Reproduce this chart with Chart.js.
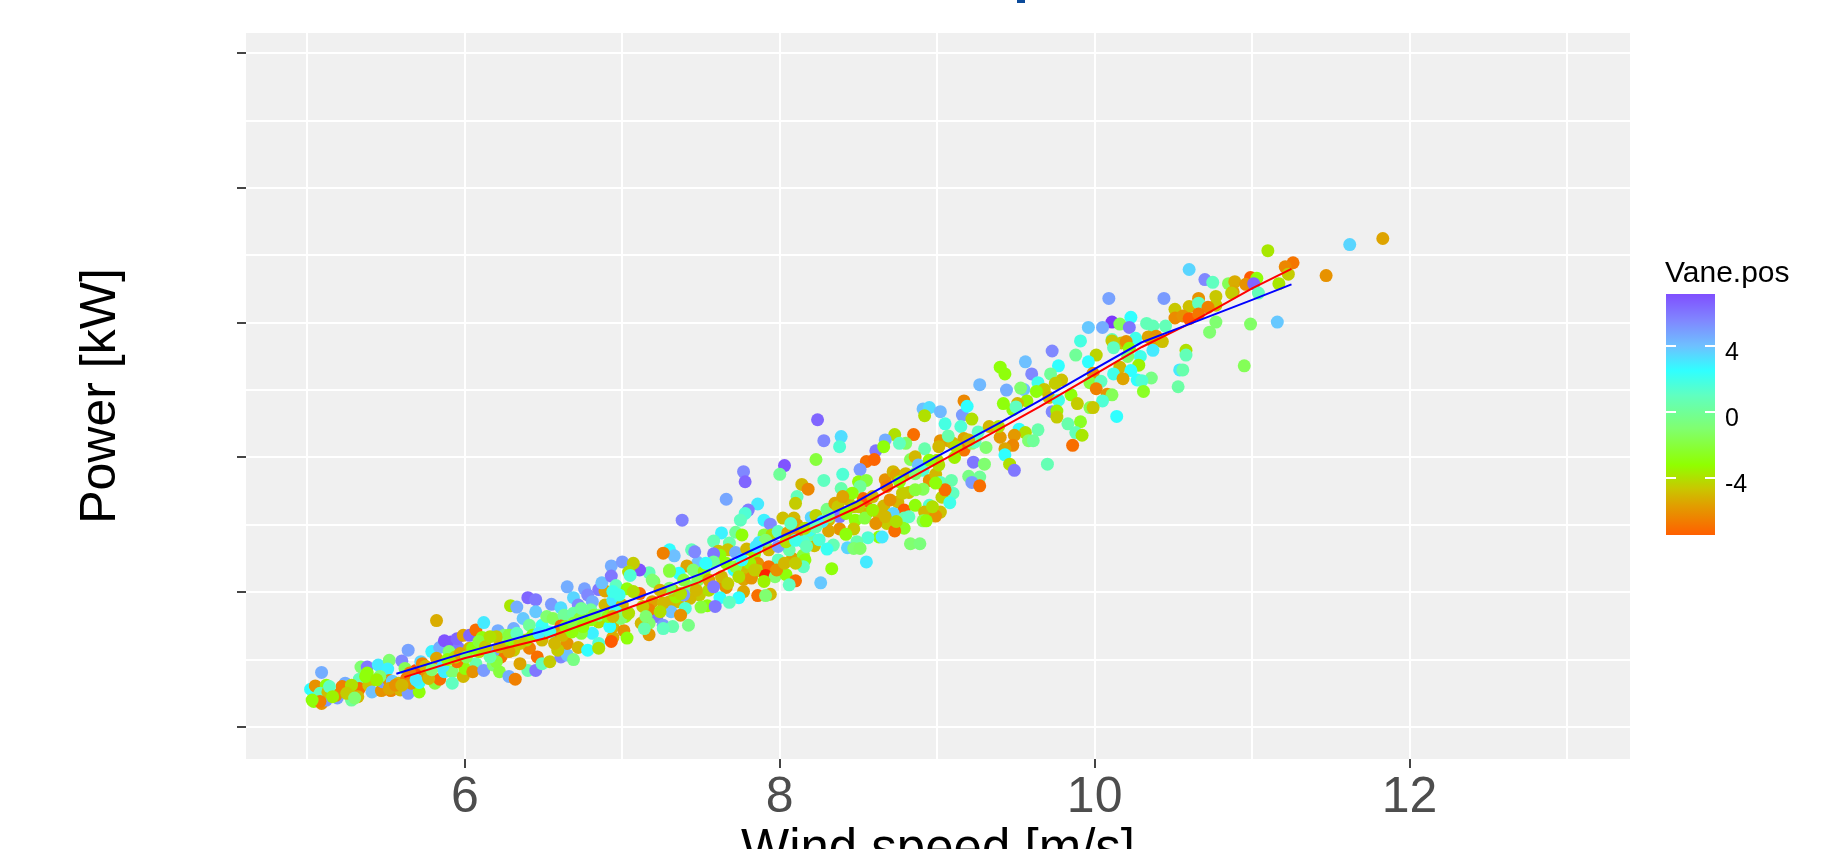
<!DOCTYPE html>
<html lang="en">
<head>
  <meta charset="UTF-8"/>
  <title>Power curve by vane position</title>
  <script src="https://cdn.jsdelivr.net/npm/chart.js"></script>
  <style>
    html, body { margin: 0; padding: 0; background: #fff; overflow: hidden; height: 849px; }
    body { position: relative; font-family: "Liberation Sans", Arial, sans-serif; }
    #chart { position: absolute; left: 0; top: 0; }
    #titleStub { position: absolute; left: 1017px; top: 0; width: 8px; height: 3px; background: #0b4a9a; }
    #legendTitle { position: absolute; left: 1665px; top: 255px; font-size: 30px; line-height: 34px; color: #000; }
    #legendBar { position: absolute; left: 1666px; top: 294px; width: 49px; height: 241px; }
    .legendTick { position: absolute; height: 2px; width: 10px; background: #fff; }
    .legendLabel { position: absolute; left: 1725px; font-size: 25px; line-height: 28px; color: #000; }
  </style>
</head>
<body>
  <canvas id="chart" width="1844" height="900"></canvas>
  <div id="titleStub"></div>
  <div id="legendTitle">Vane.pos</div>
  <div id="legendBar"></div>

  <script>
    // y axis has no labels so the kW scale is a guess
    const windSpeed = [
      11.83,11.62,11.10,11.26,11.21,11.23,11.47,10.60,10.70,10.75,10.85,10.89,10.99,11.03,10.96,11.01,11.17,10.88,10.87,11.04,
      10.44,10.09,10.77,10.66,10.60,10.51,10.66,10.77,10.72,10.51,10.56,10.60,10.66,10.11,10.23,10.16,10.33,10.37,10.45,10.77,
      10.99,11.16,9.96,10.05,10.22,10.73,9.91,10.11,10.11,10.17,10.26,10.34,10.39,10.37,10.43,10.12,10.20,10.22,9.73,9.88,
      10.01,10.37,10.58,10.58,9.56,9.96,9.77,10.29,10.21,10.28,10.16,10.23,10.95,9.40,9.43,9.60,9.72,10.54,10.56,10.12,
      10.18,9.99,9.79,9.75,9.64,10.36,10.27,10.30,9.97,10.04,9.68,9.55,9.44,9.53,9.63,9.71,10.53,10.31,10.01,10.08,
      10.11,9.85,9.57,9.42,9.51,9.77,10.05,9.89,9.97,9.99,9.48,9.50,9.73,9.76,9.76,10.14,9.83,9.91,9.64,9.52,
      9.56,9.88,9.92,9.49,9.40,9.58,9.61,9.48,9.86,9.43,9.43,9.70,9.46,9.49,
      9.27,8.91,8.95,9.02,8.92,9.17,9.16,9.19,9.22,9.05,9.15,8.73,8.85,8.67,8.80,8.76,8.61,8.66,8.92,8.83,
      8.86,9.02,9.07,9.10,9.07,9.17,9.26,9.33,9.39,9.17,9.31,9.11,9.00,9.23,9.30,8.24,8.28,8.39,8.38,8.23,
      8.55,8.60,8.51,8.03,8.00,7.77,7.78,8.40,8.28,8.39,8.14,8.18,8.50,8.55,8.51,8.67,8.72,8.74,8.68,8.88,
      8.91,8.95,8.99,8.91,9.02,9.09,9.10,9.20,9.27,9.22,9.27,8.11,8.10,7.66,7.86,7.80,7.78,7.75,7.38,7.90,
      8.02,8.09,7.94,8.20,8.23,8.30,8.35,8.43,8.37,8.53,8.55,8.47,8.66,8.75,8.82,8.79,8.86,8.95,9.03,9.08,
      8.92,9.02,8.99,8.91,8.93,8.55,8.63,8.72,8.79,8.48,8.54,8.68,8.61,8.79,8.73,8.63,8.65,8.83,8.89,8.38,
      8.31,8.38,8.31,8.47,8.42,8.56,8.49,8.43,8.47,8.51,8.34,8.30,8.22,8.55,8.33,8.26,7.63,7.58,7.72,7.76,
      7.90,7.95,7.99,8.05,8.12,8.19,8.15,7.68,7.61,7.67,7.72,7.79,7.87,7.93,7.84,7.62,7.58,7.48,7.44,7.46,
      7.30,7.33,7.26,7.41,7.30,7.36,7.58,7.99,8.08,8.15,8.16,8.15,7.86,7.79,7.86,7.64,7.66,7.71,7.93,7.91,
      7.97,8.04,8.10,8.06,7.77,7.82,7.90,7.77,7.86,7.94,7.91,7.74,7.62,7.68,7.17,7.11,7.30,7.20,7.11,7.19,
      7.49,7.43,7.35,7.30,7.54,7.50,7.40,7.31,7.37,7.22,7.26,7.42,7.32,7.17,7.12,7.17,7.26,7.14,7.55,7.59,
      7.48,7.43,7.39,7.19,7.26,7.17,7.45,7.52,
      5.09,5.02,5.05,5.12,5.04,5.09,5.12,5.08,5.13,5.19,5.18,5.24,5.22,5.28,5.28,5.33,5.33,5.32,5.34,5.38,
      5.38,5.45,5.52,5.51,5.60,5.62,5.39,5.41,5.47,5.53,5.48,5.52,5.54,5.58,5.59,5.64,5.71,5.64,5.69,5.63,
      5.66,5.71,5.72,5.73,5.79,5.84,5.87,5.91,5.96,5.95,5.82,5.99,6.03,6.07,6.12,6.11,6.21,6.25,6.20,6.29,
      6.33,6.40,6.45,6.31,6.37,6.45,6.55,6.61,6.41,6.49,6.52,6.56,6.65,6.69,6.76,6.78,6.72,6.81,6.85,6.89,
      6.87,6.93,7.00,7.07,7.04,7.05,6.93,6.96,7.03,6.63,6.69,6.80,6.89,6.94,7.00,6.61,6.73,6.67,6.77,6.85,
      6.94,7.02,5.76,5.81,5.84,5.87,5.92,5.92,5.99,6.00,6.07,5.95,5.82,5.90,6.05,6.03,6.12,6.18,6.22,6.28,
      6.32,6.40,6.45,6.35,6.31,6.41,6.46,6.49,6.54,6.61,6.65,6.69,6.65,6.72,6.78,6.81,6.85,6.85,6.94,6.93,
      7.01,7.03,6.23,6.18,6.26,6.09,6.59,6.58,6.49,6.39,6.20,6.16,6.74,6.92,
      5.46,5.37,5.44,5.28,5.14,5.16,5.08,5.03,5.25,5.30,5.52,5.56,5.60,5.65,5.69,5.75,5.77,5.79,5.86,5.89,
      5.94,5.97,6.01,6.05,6.09,6.13,6.16,6.22,6.28,6.30,6.35,6.28,6.33,6.43,6.47,6.54,6.57,6.62,6.68,6.64,
      6.69,6.75,6.80,6.85,6.91,6.96,6.99,7.04,6.94,6.82,6.74,6.98,7.07,6.94,
      7.13,7.15,7.24,7.34,7.32,7.30,7.24,7.39,7.47,7.37,7.55,7.58,7.63,7.67,7.53,7.66,7.72,7.74,7.81,7.84,
      7.76,7.98,8.03,8.10,8.06,7.99,8.04,7.91,7.85,8.10,8.19,8.25,8.17,8.11,8.07,8.16,8.27,8.23,8.42,8.50,
      8.59,8.67,8.74,8.82,8.59,8.46,8.40,8.31,8.78,8.70,8.86,8.97,9.05,8.99,8.80,8.76,8.86,9.01,9.12,9.22,
      9.24,9.20,9.01,8.95
    ];
    const power = [
      725,716,707,689,683,672,670,679,664,660,658,661,667,666,657,658,658,646,644,644,
      636,636,639,636,624,620,629,626,623,607,610,606,613,601,608,598,599,595,595,601,
      598,601,593,593,593,586,573,575,573,570,577,579,580,572,572,563,572,562,558,552,
      552,559,559,552,542,542,536,550,550,537,534,529,536,534,524,524,524,530,530,524,
      517,525,515,510,511,518,515,514,511,513,501,501,500,503,498,489,505,498,502,494,
      493,493,484,480,480,485,484,480,474,474,471,475,468,469,460,461,450,453,441,442,
      437,437,433,433,430,425,425,418,418,413,404,390,390,381,
      508,472,474,468,462,484,463,476,457,450,446,434,434,426,421,421,410,416,413,397,
      401,425,425,421,432,428,438,446,446,411,415,400,396,393,390,456,425,431,416,397,
      394,397,382,388,375,379,364,375,366,354,360,353,364,366,357,367,379,374,357,389,
      381,366,375,353,363,366,347,372,371,363,358,342,332,338,331,322,317,307,307,307,
      310,310,301,311,314,323,332,338,327,339,336,327,328,334,348,322,329,329,341,333,
      319,319,313,306,306,317,315,317,310,307,310,302,302,295,291,282,282,272,272,312,
      307,294,291,294,286,281,275,266,265,265,270,264,269,245,235,214,288,276,289,285,
      285,285,290,288,290,285,275,273,261,263,259,264,274,263,257,255,257,244,263,260,
      263,254,258,239,233,228,245,248,250,255,248,238,243,235,232,216,207,233,238,225,
      223,226,217,211,219,221,216,201,195,197,195,192,192,185,229,233,231,216,198,218,
      196,191,186,186,180,178,176,171,166,164,151,151,149,154,154,137,146,146,203,179,
      218,208,196,186,184,174,233,231,
      81,56,61,62,38,35,40,50,52,43,47,65,60,40,57,71,57,45,89,89,
      80,92,99,86,98,87,62,52,54,54,67,69,68,65,55,50,52,114,84,72,
      65,66,97,94,112,118,128,126,117,131,158,136,136,144,155,133,143,136,134,180,
      178,192,189,146,161,171,182,177,151,151,164,161,208,192,205,196,181,186,204,202,
      214,239,245,243,230,225,224,210,205,166,169,174,181,188,181,150,161,144,159,156,
      149,164,77,65,71,82,82,65,75,87,94,97,102,112,82,117,84,92,82,75,
      71,84,84,94,114,117,104,94,97,104,107,100,124,118,114,139,124,117,133,127,
      143,132,104,112,119,112,114,139,129,129,97,104,139,149,
      75,75,70,62,60,45,38,40,50,43,57,62,62,80,70,90,72,85,90,100,
      104,109,104,117,127,119,134,119,112,129,124,136,139,136,139,141,124,136,141,149,
      154,149,159,166,164,171,161,169,164,166,176,196,201,201,
      179,164,171,193,203,206,203,218,203,198,218,208,223,213,243,243,238,223,243,233,
      248,233,243,243,263,268,275,277,268,277,292,278,268,300,302,295,305,297,317,327,
      322,312,305,312,342,347,342,312,347,337,352,327,352,362,376,364,376,416,416,421,
      423,426,389,396
    ];
    const vanePos = [
      -5.5,3.5,-3.8,-6.8,-6.3,-4.5,-6,3.5,5.5,1,-1.5,-5.3,-7.5,-3,-6,6.5,-3.8,-5.5,-4.5,0.8,
      5,4.8,-4.6,-6,-4.8,-4.6,1,-4.6,-6.5,-6.2,-6,-7.5,-6.8,7.5,2.5,-1.5,0.8,0.8,0.8,-1,
      -1.2,3.8,3.8,4.5,6,-1,1.8,0.8,-4.6,-4.5,2,-5.5,-6,-5.5,-4.8,1,-6,-3,5.5,0,
      -4.3,3,-4,0.8,4,2.5,2.5,2,-1,-3.5,-5,2.5,-1.5,-3,-3,5.5,0,3,0.5,2,
      -5.5,-6,-4.8,-4.5,2,-0.5,2.5,1.5,-2,1,-4.6,4,4.5,-1,-3,-5,0.3,-2.5,-6.5,-6,
      -1.5,-3,-3.5,-3,-5,2,1.5,-4.5,-1.5,-4.6,-3,1,5.5,-3.5,-4.5,2.5,0.5,-2.5,0.5,2.5,
      -4,0.8,-3.8,-5.8,-5.8,-1,0,-6.3,-7,-5.5,2.5,0.7,-4,6,
      4.2,4,3.3,4.2,-4,-6.3,5,2.5,-4,1.8,1.5,-4,-7,4.5,-1.2,1,6,-3,0.5,-1.5,
      -5,-6,-5.5,-5,0.5,-5.5,1,-5,-4,-6.8,-1,-3.5,-4,6,-1,6.5,5.5,3.3,1.5,-2,
      -7,-7.3,5,7,0,5.5,6.5,1.5,1,0.5,-5,-6.3,-3,-2,0,-6,-5,-5.5,-6.5,4,
      1.5,-6,-5,-1.5,1,0.5,1,-0.5,0,5,-7,0.8,-4.5,4.7,3,5.8,1.5,1,5.7,2.8,
      -4.8,-5,5.5,3.5,-4.3,-0.5,-5.5,-5,-4.6,-7,-7.5,-4.3,-5,-5,-4.7,-7.5,-3,1.5,-4.3,2,
      -5,-4.8,-6,-1.5,-3,-5,-5,3.5,0.5,-3,-2,-4.5,-6,-2.5,-7,-3,3,-1,-0.7,6,
      -5,-6,-5.5,-4.6,-3,1.5,0.5,3.5,-1,-1.2,0.7,2.2,-4.8,3,-3,3.8,2.8,0.7,0,-3,
      -2,-4,1,-5.5,-6,0,1.5,0.5,-4.8,-4.7,4.5,-5,3,-5,-3,-3,6,4,0.8,5.5,
      2.5,4,-6.5,-5.5,-1.5,2.5,0,1,-5.5,-2,-3,1,-6,-4.8,-4,-6,-6,2.5,-7,-8.5,
      -1,-3,-7,1,-5.5,-6,-3.5,-5.5,-7,-5,-1,2.5,2.5,1,0.8,7,-2,-1.5,-7,-1,
      -4.5,-5,-4.8,-5,-3,-2,1.5,4,-6,6,5,-0.5,0.5,-1,-5,-5.8,1,0.5,-4,6,
      -1.5,-1,5,-5.5,-5,-6.5,-1,-3,
      4.5,2.5,-6,-3,-3,-6,5,0.8,-4.8,5,-6.2,4.5,-6.5,0,-4.6,0.8,-7,-5,-1,6,
      -3,3,-1,2.8,5.5,-1.5,-4.6,4,-6,-6.3,5,-6,3.8,-5,-5,5,-3,4.8,-7.8,-6.8,
      -6,2.5,3.5,-6.5,2.8,4.5,7,7,6,6.5,-5.3,-5.5,6.5,-7,3,-3,4.5,-1,-4.5,-3.8,
      4.5,6.5,6,4.5,3.8,3.8,5,3.3,0,2.3,-1,-1.5,4.5,3.5,4.8,5.5,5.5,4.5,6,-5.5,
      4,4.5,5,-4.5,-4,1.5,6,1,-3,0,0.3,0,-5,3,-5,-7,-2,-5,-2,-4,
      -5,-3,-6,-2,-7,2.8,-1,1,-5,-3,0.5,-7,-5.5,-1,-6,-5,5,-1,-2,4.5,
      -6.5,0.5,6,-5.5,-4.5,-6.5,-7,0.8,-4.5,5.5,4,-0.5,-6,-5,2.5,2.8,1.5,-4,-5.3,-7.5,
      -6,-3,-6.8,5,-3,-4,-4.5,-6,-5,-4,-2,0.5,-2,2.5,
      -1,-3,-3.5,-4,1,-3.5,-6.5,-3,-4.5,-1,-5.5,-6,-5,-6.5,3,-5,-5,-1,3,-3,
      -4,-5.5,-1.5,-3,-2,-4.5,-4,-5,-5.5,-3,-4.6,-2,1,-3,3,2,-5,-5,-3,-3,
      -2,-3,-3,-1,-3,2,-1,-4,-5,-2,0,2,-4,2,
      -4.5,-1,-4,-3.5,-4.6,-1,-5,-2,-5,-4,-5.5,6,-5,-4.5,2.5,-3,-2,-4,-3.5,-4.5,
      2.5,-6,-5,-4.5,0.5,5,-4,-1,3,2,2,1.5,0.8,-5.5,1,-4,3,0.8,-3,-4.5,
      -3.5,-5,-4,1,-5,-3,-5.5,-1,-4.5,-6,-2,-4,-7,-3,-5,-3,-1,-5,-4,-1,
      1,-5,-4,-3
    ];

    const blueX = [5.565,5.997,6.517,7.006,7.508,8.003,8.486,8.994,9.394,9.648,9.99,10.30,10.58,11.0,11.25];
    const blueY = [79,110,144,184,228,282,334,401,451,484,530,571,596,634,657];
    const redX = [5.616,5.997,6.517,7.006,7.49,8.003,8.486,8.994,9.394,9.648,9.99,10.30,10.58,11.0,11.25];
    const redY = [74,102,132,174,215,274,325,391,442,475,522,564,596,651,680];

    const xTicks = [6, 8, 10, 12];
    const yMajor = [0, 200, 400, 600, 800, 1000];
    const legendTicks = [4, 0, -4];

    // vane position -> colour, from the colour bar
    const vaneStops = [8.5, 7.1, 5.5, 4, 2.5, 1, -1, -3.2, -4.6, -5.6, -6.5, -7.4, -8.5];
    const vaneColors = ['#7a00f0','#8050ff','#8088ff','#6ec0ff','#30ffff','#60ffc0','#80ff70','#90ff00','#c8c800','#e0a000','#f08000','#ff6000','#ff2000'];

    function hexRgb(h) {
      return [1, 3, 5].map(i => parseInt(h.substr(i, 2), 16));
    }

    function vaneColor(v) {
      if (v >= vaneStops[0]) return vaneColors[0];
      for (let i = 1; i < vaneStops.length; i++) {
        if (v >= vaneStops[i]) {
          const t = (v - vaneStops[i]) / (vaneStops[i - 1] - vaneStops[i]);
          const a = hexRgb(vaneColors[i]);
          const b = hexRgb(vaneColors[i - 1]);
          return 'rgb(' + a.map((c, k) => Math.round(c + (b[k] - c) * t)).join(',') + ')';
        }
      }
      return vaneColors[vaneColors.length - 1];
    }

    const points = windSpeed.map((x, i) => ({ x: x, y: power[i] }));
    const toXY = (xs, ys) => xs.map((x, i) => ({ x: x, y: ys[i] }));

    const panelBg = {
      id: 'panelBg',
      beforeDraw(c) {
        const a = c.chartArea;
        c.ctx.save();
        c.ctx.fillStyle = '#f0f0f0';
        c.ctx.fillRect(a.left, a.top, a.width, a.height);
        c.ctx.restore();
      }
    };

    new Chart(document.getElementById('chart'), {
      type: 'scatter',
      data: {
        datasets: [
          { data: toXY(blueX, blueY), showLine: true, borderColor: '#0000ff', borderWidth: 2, pointRadius: 0, order: 0 },
          { data: toXY(redX, redY), showLine: true, borderColor: '#ff0000', borderWidth: 2, pointRadius: 0, order: 1 },
          {
            data: points,
            pointRadius: 6.5,
            pointBorderWidth: 0,
            pointBackgroundColor: vanePos.map(vaneColor),
            order: 2
          }
        ]
      },
      plugins: [panelBg],
      options: {
        responsive: false,
        animation: false,
        events: [],
        layout: { padding: { left: 0, right: 214, top: 33, bottom: 0 } },
        plugins: { legend: { display: false }, tooltip: { enabled: false } },
        scales: {
          x: {
            type: 'linear',
            min: 4.61,
            max: 13.40,
            afterFit: s => { s.height = 141; },
            border: { display: false },
            grid: {
              color: '#ffffff',
              lineWidth: 2,
              tickLength: 9,
              tickWidth: 2,
              tickColor: c => xTicks.includes(c.tick.value) ? '#444444' : 'rgba(0,0,0,0)'
            },
            ticks: {
              stepSize: 1,
              includeBounds: false,
              autoSkip: false,
              maxRotation: 0,
              padding: 5,
              color: '#4d4d4d',
              font: { family: '"Liberation Sans"', size: 50, lineHeight: 1 },
              callback: v => xTicks.includes(v) ? String(v) : ''
            },
            title: {
              display: true,
              text: 'Wind speed [m/s]',
              color: '#000000',
              padding: { top: 0, bottom: 18 },
              font: { family: '"Liberation Sans"', size: 51, lineHeight: 1.2 }
            }
          },
          y: {
            min: -47.5,
            max: 1030,
            afterFit: s => { s.width = 246; },
            border: { display: false },
            grid: {
              color: '#ffffff',
              lineWidth: 2,
              tickLength: 9,
              tickWidth: 2,
              tickColor: c => yMajor.includes(c.tick.value) ? '#444444' : 'rgba(0,0,0,0)'
            },
            ticks: {
              stepSize: 100,
              includeBounds: false,
              autoSkip: false,
              padding: 0,
              font: { family: '"Liberation Sans"', size: 10 },
              callback: () => ''
            },
            title: {
              display: true,
              text: 'Power [kW]',
              color: '#000000',
              padding: { top: 71, bottom: 0 },
              font: { family: '"Liberation Sans"', size: 50, lineHeight: 1.2 }
            }
          }
        }
      }
    });

    // colour bar legend
    const barTop = 7.13, barBottom = -7.43;
    const barStops = [[barTop, '#8050ff']];
    vaneStops.forEach((v, i) => {
      if (v < barTop && v > barBottom) barStops.push([v, vaneColors[i]]);
    });
    barStops.push([barBottom, '#ff6000']);
    const bar = document.getElementById('legendBar');
    bar.style.background = 'linear-gradient(to bottom,' + barStops.map(s =>
      s[1] + ' ' + ((barTop - s[0]) / (barTop - barBottom) * 100).toFixed(1) + '%').join(',') + ')';

    legendTicks.forEach(v => {
      const y = 294 + (barTop - v) / (barTop - barBottom) * 241;
      [1666, 1705].forEach(left => {
        const t = document.createElement('div');
        t.className = 'legendTick';
        t.style.left = left + 'px';
        t.style.top = (y - 1) + 'px';
        document.body.appendChild(t);
      });
      const l = document.createElement('div');
      l.className = 'legendLabel';
      l.style.top = (y - 9) + 'px';
      l.textContent = String(v);
      document.body.appendChild(l);
    });
  </script>
</body>
</html>
